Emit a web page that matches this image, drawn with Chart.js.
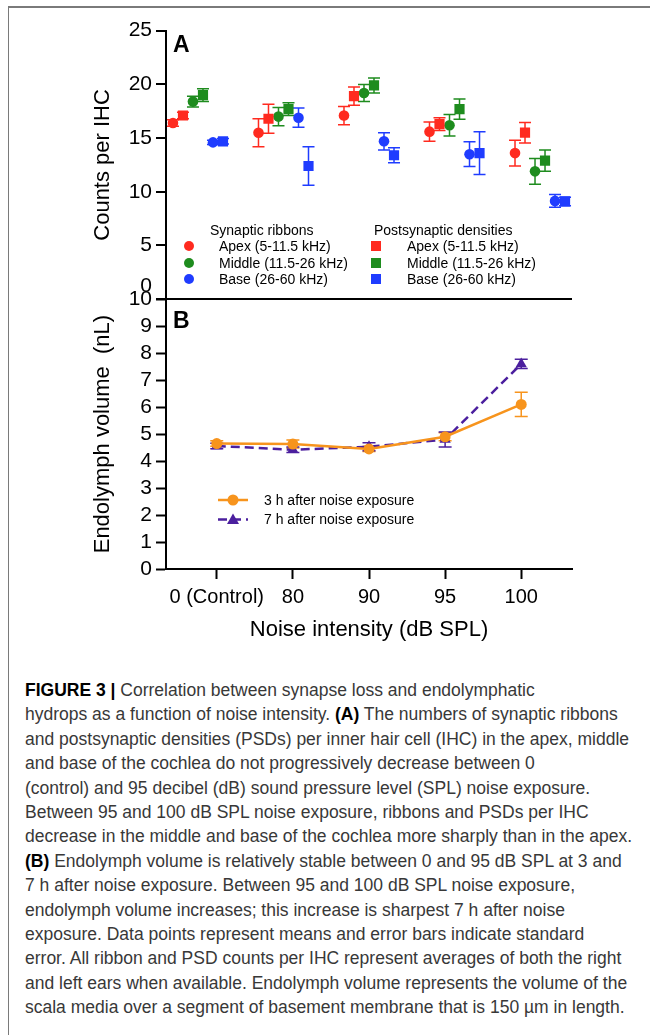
<!DOCTYPE html>
<html>
<head>
<meta charset="utf-8">
<script src="https://cdn.jsdelivr.net/npm/chart.js@4/dist/chart.umd.min.js"></script>
<style>
  html, body { margin: 0; padding: 0; background: #fff; }
  body { width: 650px; height: 1035px; position: relative; overflow: hidden; font-family: "Liberation Sans", Arial, sans-serif; }
  .frame { position: absolute; left: 8px; top: 6px; width: 660px; height: 1050px; border-left: 1.5px solid #7a7a7a; border-top: 2px solid #7a7a7a; }
  #wrap { position: absolute; left: 0; top: 0; width: 650px; height: 660px; }
  .t { position: absolute; white-space: nowrap; color: #000; font-size: 14px; line-height: 16px; }
  .panel { position: absolute; font-weight: bold; font-size: 23px; line-height: 23px; color: #000; }
  .dot { position: absolute; width: 10px; height: 10px; border-radius: 50%; }
  .sq { position: absolute; width: 10px; height: 10px; }
  .caption { position: absolute; left: 25px; top: 678px; font-size: 17.5px; line-height: 24.4px; color: #383838; white-space: nowrap; }
  .caption b { color: #000; }
</style>
</head>
<body>
<div class="frame"></div>
<div id="wrap"><canvas id="chart"></canvas></div>

<div class="panel" style="left:173px; top:33px;">A</div>
<div class="panel" style="left:173px; top:309px;">B</div>

<!-- panel A legend -->
<div class="t" style="left:210px; top:222px;">Synaptic ribbons</div>
<div class="dot" style="left:184px; top:241px; background:#ff2a1f;"></div>
<div class="dot" style="left:184px; top:258px; background:#1e8c1e;"></div>
<div class="dot" style="left:184px; top:274px; background:#1f3cff;"></div>
<div class="t" style="left:219px; top:238px;">Apex (5-11.5 kHz)</div>
<div class="t" style="left:219px; top:255px;">Middle (11.5-26 kHz)</div>
<div class="t" style="left:219px; top:271px;">Base (26-60 kHz)</div>
<div class="t" style="left:374px; top:222px;">Postsynaptic densities</div>
<div class="sq" style="left:371px; top:241px; background:#ff2a1f;"></div>
<div class="sq" style="left:371px; top:258px; background:#1e8c1e;"></div>
<div class="sq" style="left:371px; top:274px; background:#1f3cff;"></div>
<div class="t" style="left:407px; top:238px;">Apex (5-11.5 kHz)</div>
<div class="t" style="left:407px; top:255px;">Middle (11.5-26 kHz)</div>
<div class="t" style="left:407px; top:271px;">Base (26-60 kHz)</div>

<!-- panel B legend -->
<svg style="position:absolute; left:216px; top:493px;" width="36" height="34">
  <line x1="2" y1="7" x2="32" y2="7" stroke="#f7941d" stroke-width="2.5"/>
  <circle cx="17" cy="7" r="5.5" fill="#f7941d"/>
  <line x1="2" y1="26.5" x2="32" y2="26.5" stroke="#4b1f9e" stroke-width="2.5" stroke-dasharray="9,5"/>
  <polygon points="17,20.5 23,31 11,31" fill="#4b1f9e"/>
</svg>
<div class="t" style="left:264px; top:492px;">3 h after noise exposure</div>
<div class="t" style="left:264px; top:511px;">7 h after noise exposure</div>

<div class="caption">
<b>FIGURE 3 |</b> Correlation between synapse loss and endolymphatic<br>
hydrops as a function of noise intensity. <b>(A)</b> The numbers of synaptic ribbons<br>
and postsynaptic densities (PSDs) per inner hair cell (IHC) in the apex, middle<br>
and base of the cochlea do not progressively decrease between 0<br>
(control) and 95 decibel (dB) sound pressure level (SPL) noise exposure.<br>
Between 95 and 100 dB SPL noise exposure, ribbons and PSDs per IHC<br>
decrease in the middle and base of the cochlea more sharply than in the apex.<br>
<b>(B)</b> Endolymph volume is relatively stable between 0 and 95 dB SPL at 3 and<br>
7 h after noise exposure. Between 95 and 100 dB SPL noise exposure,<br>
endolymph volume increases; this increase is sharpest 7 h after noise<br>
exposure. Data points represent means and error bars indicate standard<br>
error. All ribbon and PSD counts per IHC represent averages of both the right<br>
and left ears when available. Endolymph volume represents the volume of the<br>
scala media over a segment of basement membrane that is 150 µm in length.
</div>

<script>
const doseLabels = ['0 (Control)', '80', '90', '95', '100'];
const countTicks = [0, 5, 10, 15, 20, 25];
const volumeTicks = [0, 1, 2, 3, 4, 5, 6, 7, 8, 9, 10];

// panel A, counts per IHC (mean, standard error)
const ribbonApex = [16.4, 15.5, 17.1, 15.6, 13.6];
const ribbonApexErr = [0.3, 1.3, 0.85, 0.9, 1.2];
const psdApex = [17.1, 16.8, 18.9, 16.3, 15.5];
const psdApexErr = [0.3, 1.35, 0.85, 0.6, 0.95];
const ribbonMiddle = [18.4, 17.0, 19.2, 16.2, 11.9];
const ribbonMiddleErr = [0.5, 0.85, 0.8, 1.0, 1.2];
const psdMiddle = [19.0, 17.7, 19.9, 17.7, 12.9];
const psdMiddleErr = [0.6, 0.6, 0.7, 0.95, 1.0];
const ribbonBase = [14.6, 16.9, 14.7, 13.5, 9.15];
const ribbonBaseErr = [0.2, 0.9, 0.8, 1.15, 0.6];
const psdBase = [14.7, 12.4, 13.4, 13.6, 9.1];
const psdBaseErr = [0.25, 1.8, 0.7, 2.0, 0.4];

// panel B, endolymph volume in nL (mean, standard error)
const vol3h = [4.65, 4.63, 4.45, 4.9, 6.1];
const vol3hErr = [0.1, 0.15, 0.1, 0.15, 0.45];
const vol7h = [4.56, 4.42, 4.53, 4.8, 7.6];
const vol7hErr = [0.1, 0.1, 0.15, 0.28, 0.17];

const RED = '#ff2a1f', GREEN = '#1e8c1e', BLUE = '#1f3cff';
const ORANGE = '#f7941d', PURPLE = '#4b1f9e';
const SLOT = 0.117;   // spacing of the six markers within a dose group (panel A)

function countSet(label, values, errors, slot, color, style) {
    return {
        label, xAxisID: 'xA', yAxisID: 'yA',
        data: values.map((v, i) => ({ x: i + (slot - 2.5) * SLOT, y: v })),
        errors, errorCap: 6,
        showLine: false,
        pointStyle: style,
        pointRadius: style === 'rect' ? 7.2 : 5.3,
        pointBorderWidth: 0,
        backgroundColor: color, borderColor: color
    };
}

function volumeSet(label, values, errors, color, style, dash) {
    return {
        label, xAxisID: 'xB', yAxisID: 'yB',
        data: values.map((v, i) => ({ x: i, y: v })),
        errors, errorCap: 6.5,
        showLine: true, borderWidth: 2.5, borderDash: dash, tension: 0,
        pointStyle: style,
        pointRadius: style === 'triangle' ? 6.5 : 5.5,
        pointBorderWidth: 0,
        backgroundColor: color, borderColor: color
    };
}

const errorBars = {
    id: 'errorBars',
    beforeDatasetsDraw(chart) {
        const ctx = chart.ctx;
        chart.data.datasets.forEach((ds, di) => {
            if (!ds.errors) return;
            const meta = chart.getDatasetMeta(di);
            const ys = chart.scales[ds.yAxisID];
            const cap = ds.errorCap;
            ctx.save();
            ctx.strokeStyle = ds.borderColor;
            ctx.lineWidth = 1.5;
            meta.data.forEach((pt, i) => {
                const v = ds.data[i].y, e = ds.errors[i];
                const top = ys.getPixelForValue(v + e);
                const bot = ys.getPixelForValue(v - e);
                ctx.beginPath();
                ctx.moveTo(pt.x, top); ctx.lineTo(pt.x, bot);
                ctx.moveTo(pt.x - cap, top); ctx.lineTo(pt.x + cap, top);
                ctx.moveTo(pt.x - cap, bot); ctx.lineTo(pt.x + cap, bot);
                ctx.stroke();
            });
            ctx.restore();
        });
    }
};

const axisFont = { family: '"Liberation Sans", Arial, sans-serif' };

new Chart(document.getElementById('chart'), {
    type: 'scatter',
    data: {
        datasets: [
            volumeSet('3 h after noise exposure', vol3h, vol3hErr, ORANGE, 'circle', []),
            volumeSet('7 h after noise exposure', vol7h, vol7hErr, PURPLE, 'triangle', [9, 5]),
            countSet('Ribbons apex', ribbonApex, ribbonApexErr, 0, RED, 'circle'),
            countSet('PSDs apex', psdApex, psdApexErr, 1, RED, 'rect'),
            countSet('Ribbons middle', ribbonMiddle, ribbonMiddleErr, 2, GREEN, 'circle'),
            countSet('PSDs middle', psdMiddle, psdMiddleErr, 3, GREEN, 'rect'),
            countSet('Ribbons base', ribbonBase, ribbonBaseErr, 4, BLUE, 'circle'),
            countSet('PSDs base', psdBase, psdBaseErr, 5, BLUE, 'rect')
        ]
    },
    options: {
        responsive: true,
        maintainAspectRatio: false,
        animation: false,
        layout: { padding: { top: 30.7, right: 78, bottom: 0, left: 0 } },
        plugins: { legend: { display: false }, tooltip: { enabled: false } },
        scales: {
            xA: { type: 'linear', display: false, bounds: 'data', min: -0.374, max: 4.374 },
            xB: {
                type: 'linear', position: 'bottom', bounds: 'data', min: -0.667, max: 4.667,
                afterBuildTicks: s => { s.ticks = doseLabels.map((_, i) => ({ value: i })); },
                afterFit: s => { s.height = 91; },
                ticks: {
                    callback: v => doseLabels[v], autoSkip: false, maxRotation: 0,
                    color: '#000', padding: 6, font: { ...axisFont, size: 20 }
                },
                grid: { drawOnChartArea: false, tickLength: 10, tickColor: '#000', tickWidth: 2 },
                border: { color: '#000', width: 2 },
                title: {
                    display: true, text: 'Noise intensity (dB SPL)', color: '#000',
                    font: { ...axisFont, size: 22 }, padding: { top: 0, bottom: 17 }
                }
            },
            yA: {
                type: 'linear', position: 'left', stack: 'panels', stackWeight: 268.6, weight: 2,
                bounds: 'data', min: 0, max: 25,
                afterBuildTicks: s => { s.ticks = countTicks.map(v => ({ value: v })); },
                afterFit: s => { s.width = 166; },
                ticks: {
                    callback: v => v === 0 ? ['0', ''] : String(v), autoSkip: false,
                    color: '#000', padding: 4, font: { ...axisFont, size: 21 }
                },
                grid: {
                    color: c => (c.tick && c.tick.value === 0) ? '#000' : 'rgba(0,0,0,0)',
                    lineWidth: 2, tickLength: 10, tickColor: '#000', tickWidth: 2
                },
                border: { color: '#000', width: 2 },
                title: {
                    display: true, text: 'Counts per IHC', color: '#000',
                    font: { ...axisFont, size: 22 }, padding: { top: 90, bottom: 0 }
                }
            },
            yB: {
                type: 'linear', position: 'left', stack: 'panels', stackWeight: 270, weight: 1,
                bounds: 'data', min: 0, max: 10,
                afterBuildTicks: s => { s.ticks = volumeTicks.map(v => ({ value: v })); },
                afterFit: s => { s.width = 166; },
                ticks: { autoSkip: false, color: '#000', padding: 4, font: { ...axisFont, size: 21 } },
                grid: { drawOnChartArea: false, tickLength: 10, tickColor: '#000', tickWidth: 2 },
                border: { color: '#000', width: 2 },
                title: {
                    display: true, text: 'Endolymph volume  (nL)', color: '#000',
                    font: { ...axisFont, size: 22 }, padding: { top: 90, bottom: 0 }
                }
            }
        }
    },
    plugins: [errorBars]
});
</script>
</body>
</html>
